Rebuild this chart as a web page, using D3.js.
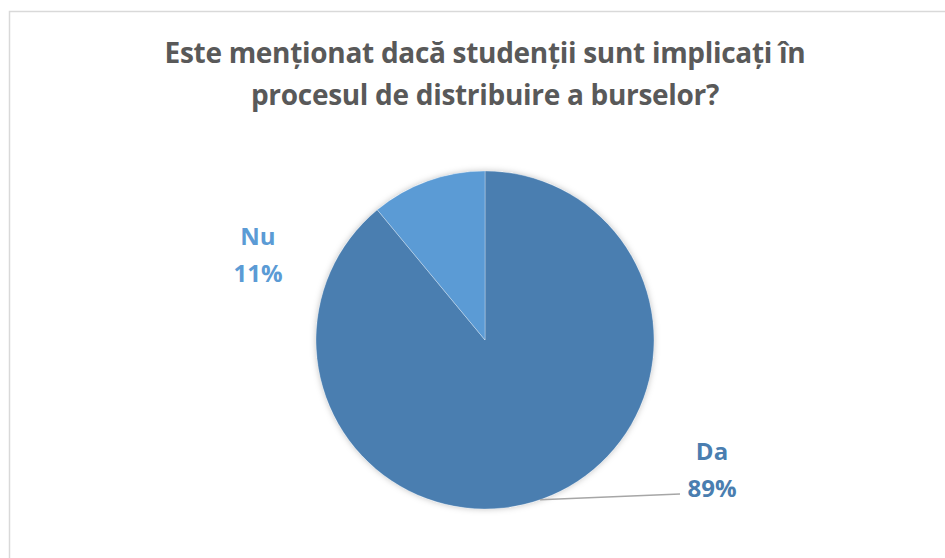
<!DOCTYPE html>
<html>
<head>
<meta charset="utf-8">
<script src="https://cdn.jsdelivr.net/npm/d3@7"></script>
<style>
  body { margin: 0; background: #fff; }
  svg { display: block; }
</style>
</head>
<body>
<svg id="chart" width="945" height="558"></svg>
<script>
const categories = ["Da", "Nu"];
const values = [89, 11];
const colors = ["#4a7eb0", "#5b9bd5"];
const titleLines = ["Este menționat dacă studenții sunt implicați în", "procesul de distribuire a burselor?"];

const svg = d3.select("#chart"),
    width = +svg.attr("width"),
    height = +svg.attr("height");

// chart border (runs off to the right and bottom)
svg.append("rect")
    .attr("x", 9.5).attr("y", 11.5)
    .attr("width", 960).attr("height", 560)
    .attr("fill", "#fff")
    .attr("stroke", "#d9d9d9")
    .attr("stroke-width", 1.5);

svg.selectAll(".title")
    .data(titleLines)
    .enter().append("text")
    .attr("class", "title")
    .attr("x", 485)
    .attr("y", (d, i) => 63 + i * 42)
    .attr("text-anchor", "middle")
    .attr("font-family", "Open Sans, sans-serif")
    .attr("font-weight", 700)
    .attr("font-size", 28)
    .attr("letter-spacing", -0.3)
    .attr("fill", "#595959")
    .text(d => d);

const defs = svg.append("defs");
const shadow = defs.append("filter").attr("id", "shadow")
    .attr("x", "-20%").attr("y", "-20%").attr("width", "140%").attr("height", "140%");
shadow.append("feDropShadow")
    .attr("dx", 0).attr("dy", 0).attr("stdDeviation", 3)
    .attr("flood-color", "#000").attr("flood-opacity", 0.25);

const cx = 485, cy = 340, radius = 169;

const pie = d3.pie().sort(null).value(d => d);
const arcs = pie(values);
const arc = d3.arc().innerRadius(0).outerRadius(radius);

const g = svg.append("g").attr("transform", `translate(${cx},${cy})`);

g.append("circle").attr("r", radius).attr("fill", "#fff").attr("filter", "url(#shadow)");

g.selectAll("path")
    .data(arcs)
    .enter().append("path")
    .attr("d", arc)
    .attr("fill", (d, i) => colors[i])
    .attr("stroke", "#fff")
    .attr("stroke-width", 0.5)
    .attr("stroke-opacity", 0.6);

// leader line for Da
const edge = [Math.sin(2.81) * radius, -Math.cos(2.81) * radius];
g.append("polyline")
    .attr("points", [edge, [195, 154]].map(p => p.join(",")).join(" "))
    .attr("fill", "none")
    .attr("stroke", "#a6a6a6")
    .attr("stroke-width", 1.5);

const labelPos = [[227, 120], [-227, -95]];
const labelColors = ["#4a7eb0", "#5b9bd5"];

categories.forEach((c, i) => {
    const t = g.append("text")
        .attr("text-anchor", "middle")
        .attr("font-family", "Open Sans, sans-serif")
        .attr("font-weight", 700)
        .attr("font-size", 24)
        .attr("fill", labelColors[i]);
    t.append("tspan").attr("x", labelPos[i][0]).attr("y", labelPos[i][1]).text(c);
    t.append("tspan").attr("x", labelPos[i][0]).attr("y", labelPos[i][1] + 37).text(values[i] + "%");
});
</script>
</body>
</html>
